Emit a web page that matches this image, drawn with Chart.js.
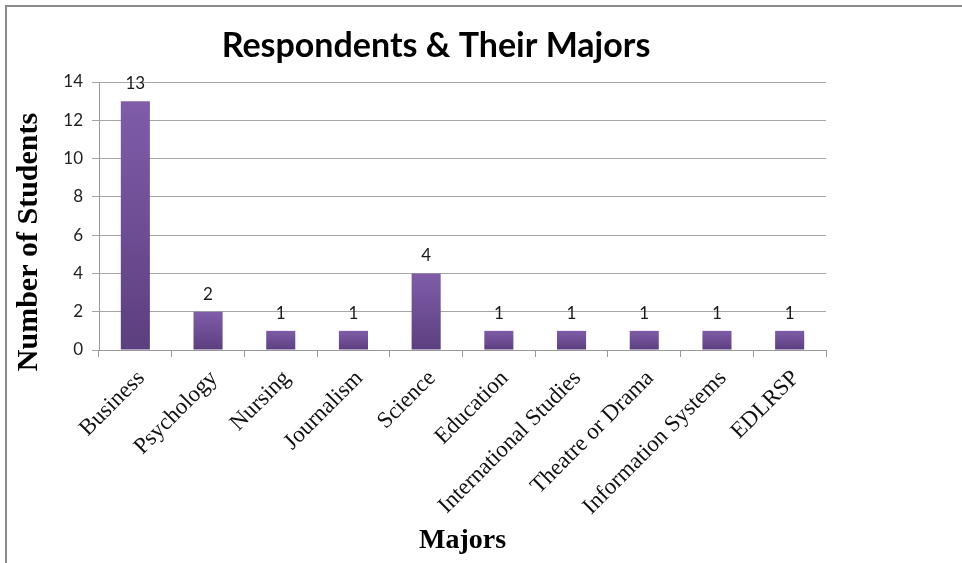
<!DOCTYPE html>
<html>
<head>
<meta charset="utf-8">
<script src="https://cdn.jsdelivr.net/npm/chart.js@4.4.1/dist/chart.umd.min.js"></script>
<style>
  html, body { margin: 0; padding: 0; background: #fff; }
  #wrap { position: relative; width: 962px; height: 563px; overflow: hidden; }
  #frame { position: absolute; left: 5px; top: 5px; width: 970px; height: 600px;
           border-left: 2px solid #8a8a8a; border-top: 2px solid #8a8a8a; }
  #chart { position: absolute; left: 0; top: 0; }
</style>
</head>
<body>
<div id="wrap">
  <div id="frame"></div>
  <canvas id="chart" width="962" height="563"></canvas>
</div>
<script>
var majors = ["Business", "Psychology", "Nursing", "Journalism", "Science", "Education",
              "International Studies", "Theatre or Drama", "Information Systems", "EDLRSP"];
var students = [13, 2, 1, 1, 4, 1, 1, 1, 1, 1];
var yTicks = [0, 2, 4, 6, 8, 10, 12, 14];

var chartTitle = 'Respondents & Their Majors';
var yTitle = 'Number of Students';
var xTitle = 'Majors';

var serif = '"Liberation Serif", "Times New Roman", serif';

// per-bar vertical gradient, lighter at the top
function barFill(context) {
    var chart = context.chart;
    var y = chart.scales.y;
    if (!y || !chart.chartArea) return '#6f4f97';
    var top = y.getPixelForValue(context.raw);
    var bottom = y.getPixelForValue(0);
    if (!isFinite(top) || !isFinite(bottom) || top === bottom) return '#6f4f97';
    var g = chart.ctx.createLinearGradient(0, top, 0, bottom);
    g.addColorStop(0, '#805ca9');
    g.addColorStop(1, '#5c3f7f');
    return g;
}

// value labels above bars + titles that sit off-centre in the original
var extras = {
    id: 'extras',
    afterDraw: function (chart) {
        var ctx = chart.ctx;
        var meta = chart.getDatasetMeta(0);
        var area = chart.chartArea;
        ctx.save();
        ctx.font = '17px Lato, "Open Sans", sans-serif';
        ctx.fillStyle = '#1a1a1a';
        ctx.textAlign = 'center';
        ctx.textBaseline = 'bottom';
        meta.data.forEach(function (bar, i) {
            ctx.fillText(String(students[i]), bar.x, bar.y - 9);
        });

        ctx.fillStyle = '#000';
        ctx.textBaseline = 'middle';
        ctx.font = 'bold 34px Lato, sans-serif';
        ctx.fillText(chartTitle, 436, 46);

        ctx.translate(29, (area.top + area.bottom) / 2 + 26);
        ctx.rotate(-Math.PI / 2);
        ctx.font = 'bold 30px ' + serif;
        ctx.fillText(yTitle, 0, 0);
        ctx.restore();
    }
};

var ctx = document.getElementById('chart').getContext('2d');
var chart = new Chart(ctx, {
    type: 'bar',
    data: {
        labels: majors,
        datasets: [{
            data: students,
            backgroundColor: barFill,
            borderWidth: 0,
            categoryPercentage: 1.0,
            barPercentage: 0.4
        }]
    },
    options: {
        responsive: false,
        animation: false,
        layout: { padding: { top: 82, left: 8, right: 136, bottom: 0 } },
        plugins: {
            legend: { display: false },
            tooltip: { enabled: false },
            title: { display: false }
        },
        scales: {
            x: {
                grid: {
                    drawOnChartArea: false,
                    drawTicks: true,
                    tickLength: 7,
                    color: '#9a9a9a'
                },
                border: { color: '#9a9a9a', width: 1 },
                ticks: {
                    color: '#111',
                    font: { family: serif, size: 23 },
                    minRotation: 45,
                    maxRotation: 45,
                    autoSkip: false,
                    labelOffset: 6,
                    padding: 8
                },
                title: {
                    display: true,
                    text: xTitle,
                    color: '#000',
                    font: { family: serif, size: 28, weight: 'bold' },
                    padding: { top: 0, bottom: 5 }
                },
                afterFit: function (scale) { scale.height = 213; }
            },
            y: {
                min: 0,
                max: 14,
                afterBuildTicks: function (scale) {
                    scale.ticks = yTicks.map(function (v) { return { value: v }; });
                },
                grid: {
                    color: '#a6a6a6',
                    tickLength: 7
                },
                border: { color: '#9a9a9a', width: 1 },
                ticks: {
                    color: '#222',
                    font: { family: 'Lato, "Open Sans", sans-serif', size: 17 },
                    padding: 9
                },
                afterFit: function (scale) { scale.width = 91; }
            }
        }
    },
    plugins: [extras]
});
</script>
</body>
</html>
